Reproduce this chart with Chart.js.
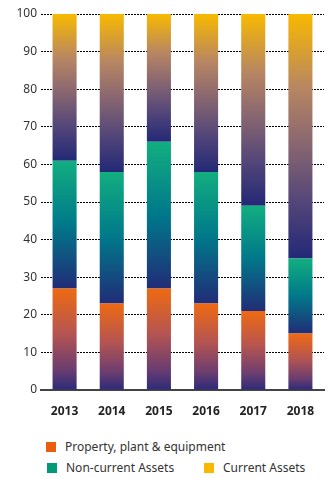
<!DOCTYPE html>
<html>
<head>
<meta charset="utf-8">
<script src="https://cdn.jsdelivr.net/npm/chart.js@4.4.1/dist/chart.umd.min.js"></script>
<style>
  html, body { margin: 0; padding: 0; background: #fff; }
  body { width: 328px; height: 479px; position: relative; overflow: hidden; font-family: "Noto Sans", sans-serif; }
  #wrap { position: absolute; left: 0; top: 0; width: 328px; height: 425px; }
  .leg { position: absolute; font-size: 12px; color: #333; line-height: 14px; white-space: nowrap; }
  .leg i { position: absolute; left: -19px; top: 2px; width: 10px; height: 10px; }
</style>
</head>
<body>
<div id="wrap"><canvas id="c"></canvas></div>
<div class="leg" style="left:65px;top:440px;"><i style="background:#ea5d0c"></i>Property, plant &amp; equipment</div>
<div class="leg" style="left:66px;top:461px;"><i style="background:#009a78"></i>Non-current Assets</div>
<div class="leg" style="left:223px;top:461px;"><i style="background:#f8b800"></i>Current Assets</div>
<script>
const years = ['2013', '2014', '2015', '2016', '2017', '2018'];
const propertyPlant = [27, 23, 27, 23, 21, 15];
const nonCurrent = [34, 35, 39, 35, 28, 20];
const currentAssets = [39, 42, 34, 42, 51, 65];
const yTicks = [0, 10, 20, 30, 40, 50, 60, 70, 80, 90, 100];

const seriesList = [propertyPlant, nonCurrent, currentAssets];

// colour ramps: segment top colour fading to navy at the segment base
const ramps = [
  [[0, '#ee6a12'], [0.45, '#b45452'], [0.8, '#6a3d70'], [1, '#2c2a78']],
  [[0, '#12ae80'], [0.5, '#00788a'], [1, '#212c77']],
  [[0, '#f8b900'], [0.3, '#b88662'], [0.52, '#8b6870'], [0.76, '#554779'], [1, '#232876']]
];
const solid = ['#ea5d0c', '#009a78', '#f8b800'];

function segmentFill(dsIndex) {
  return function (ctx) {
    const chart = ctx.chart;
    if (!chart.chartArea || ctx.dataIndex === undefined) return solid[dsIndex];
    const i = ctx.dataIndex;
    let base = 0;
    for (let k = 0; k < dsIndex; k++) base += seriesList[k][i];
    const top = base + seriesList[dsIndex][i];
    const y = chart.scales.y;
    const g = chart.ctx.createLinearGradient(0, y.getPixelForValue(top), 0, y.getPixelForValue(base));
    ramps[dsIndex].forEach(s => g.addColorStop(s[0], s[1]));
    return g;
  };
}

new Chart(document.getElementById('c'), {
  type: 'bar',
  data: {
    labels: years,
    datasets: [
      { label: 'Property, plant & equipment', data: propertyPlant, backgroundColor: segmentFill(0) },
      { label: 'Non-current Assets', data: nonCurrent, backgroundColor: segmentFill(1) },
      { label: 'Current Assets', data: currentAssets, backgroundColor: segmentFill(2) }
    ]
  },
  options: {
    responsive: true,
    maintainAspectRatio: false,
    animation: false,
    layout: { padding: { top: 14, right: 4, bottom: 0, left: 0 } },
    datasets: { bar: { categoryPercentage: 1, barPercentage: 0.51, borderWidth: 0 } },
    plugins: { legend: { display: false }, tooltip: { enabled: false } },
    scales: {
      x: {
        stacked: true,
        grid: { display: false },
        border: { display: true, color: '#444', width: 2 },
        ticks: { color: '#222', padding: 6, font: { family: 'Noto Sans', size: 12, weight: 'bold' } },
        afterFit: s => { s.height = 35; }
      },
      y: {
        stacked: true,
        min: 0, max: 100,
        afterBuildTicks: s => { s.ticks = yTicks.map(v => ({ value: v })); },
        grid: { color: '#000', lineWidth: 1, tickLength: 0, drawTicks: false },
        border: { display: false, dash: [2, 1] },
        ticks: { color: '#333', padding: 4, font: { family: 'Noto Sans', size: 12 } },
        afterFit: s => { s.width = 41; }
      }
    }
  }
});
</script>
</body>
</html>
